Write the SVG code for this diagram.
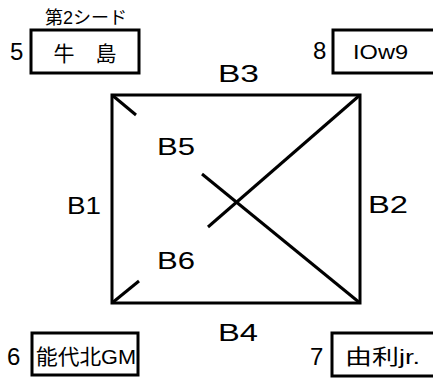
<svg xmlns="http://www.w3.org/2000/svg" width="433" height="378" viewBox="0 0 433 378">
<style>
.box{fill:#fff;stroke:#000;stroke-width:3}
.ln{stroke:#000;stroke-width:3;fill:none;stroke-linecap:butt}
.lb{font-family:"Liberation Sans","Noto Sans CJK JP",sans-serif;font-size:24px;fill:#000}
.nm{font-family:"Liberation Sans","Noto Sans CJK JP",sans-serif;font-size:21px;fill:#000}
.sd{font-family:"Liberation Sans","Noto Sans CJK JP",sans-serif;font-size:24px;fill:#000}
</style>
<rect width="433" height="378" fill="#fff"/>
<g id="connectors">
<rect x="112" y="95" width="248" height="208" class="ln"/>
<line x1="112" y1="95" x2="136" y2="115" class="ln"/>
<line x1="202" y1="174" x2="360" y2="303" class="ln"/>
<line x1="360" y1="95" x2="208" y2="227" class="ln"/>
<line x1="112" y1="303" x2="139" y2="281" class="ln"/>
</g>
<g id="labels">
<text class="lb" x="218" y="82" textLength="41" lengthAdjust="spacingAndGlyphs">B3</text>
<text class="lb" x="67" y="214" textLength="34" lengthAdjust="spacingAndGlyphs">B1</text>
<text class="lb" x="368" y="213" textLength="40" lengthAdjust="spacingAndGlyphs">B2</text>
<text class="lb" x="218" y="341" textLength="40" lengthAdjust="spacingAndGlyphs">B4</text>
<text class="lb" x="157" y="155" textLength="38" lengthAdjust="spacingAndGlyphs">B5</text>
<text class="lb" x="157" y="269" textLength="38" lengthAdjust="spacingAndGlyphs">B6</text>
</g>
<g id="node-5">
<text x="86" y="24" text-anchor="middle" font-family="Liberation Sans,Noto Sans CJK JP,sans-serif" font-size="18">第2シード</text>
<text class="sd" x="10" y="60">5</text>
<rect x="31" y="30" width="108" height="43" class="box"/>
<text class="nm" x="85" y="61" text-anchor="middle" font-size="23">牛　島</text>
</g>
<g id="node-8">
<text class="sd" x="313" y="59">8</text>
<rect x="333" y="30" width="110" height="43" class="box"/>
<text class="nm" x="353" y="59" font-size="22" textLength="55" lengthAdjust="spacingAndGlyphs">IOw9</text>
</g>
<g id="node-6">
<text class="sd" x="7" y="365">6</text>
<rect x="32" y="333" width="106" height="42" class="box"/>
<text class="nm" x="36" y="364" textLength="100" lengthAdjust="spacingAndGlyphs">能代北GM</text>
</g>
<g id="node-7">
<text class="sd" x="310" y="365">7</text>
<rect x="332" y="333" width="111" height="43" class="box"/>
<text class="nm" x="345" y="364" textLength="75" lengthAdjust="spacingAndGlyphs">由利jr.</text>
</g>
</svg>
